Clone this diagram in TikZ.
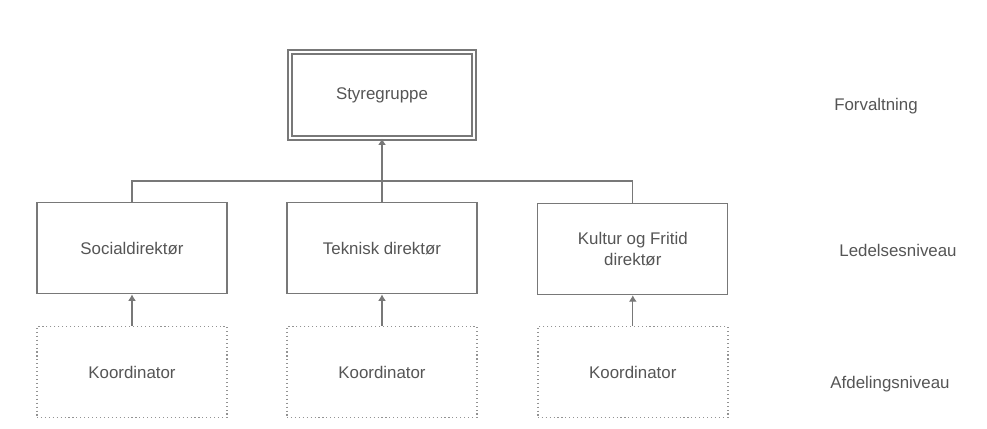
\documentclass[tikz,border=0pt]{standalone}
\usepackage{fontspec}
\setmainfont{Liberation Sans}
\usetikzlibrary{arrows.meta, positioning, calc}

\definecolor{linegray}{RGB}{120,120,120}
\definecolor{textgray}{RGB}{85,85,85}

\tikzset{
  box/.style={draw=linegray, line width=0.8pt, minimum width=4.75cm, minimum height=2.275cm,
    align=center, text=textgray, font=\fontsize{12}{15}\selectfont},
  topbox/.style={box, double=white, double distance=2pt},
  koordbox/.style={box, draw=linegray!80, dotted, line width=1pt},
  level/.style={text=textgray, font=\fontsize{12}{15}\selectfont},
  conn/.style={draw=linegray, line width=0.8pt},
  tip/.style={-{Latex[length=1.6mm,width=2mm]}},
}

\begin{document}
\begin{tikzpicture}
\useasboundingbox (0,0) rectangle (24.675,10.7);

\node[topbox, minimum width=4.6cm, minimum height=2.15cm] (sty) at (9.55,8.325) {Styregruppe};

\node[box] (soc) at (3.3,4.49) {Socialdirektør};
\node[box] (tek) at (9.55,4.49) {Teknisk direktør};
\node[box] (kul) at (15.82,4.47) {Kultur og Fritid\\direktør};

\foreach \n / \x in {soc/3.3, tek/9.55, kul/15.82} {
\node[koordbox] (k\n) at (\x,1.4) {Koordinator};
\draw[conn,tip] (k\n.north) -- (\n.south);
}

% samlelinje
\coordinate (bar) at (9.55,6.175);
\draw[conn] (soc.north) |- (bar) -| (kul.north);
\draw[conn] (tek.north) -- (bar);
\draw[conn,tip] (bar) -- (sty.south);

\node[level] (forv) at (21.9,8.05) {Forvaltning};
\node[level] (led) at (22.45,4.45) {Ledelsesniveau};
\node[level] (afd) at (22.25,1.1) {Afdelingsniveau};
\end{tikzpicture}
\end{document}
